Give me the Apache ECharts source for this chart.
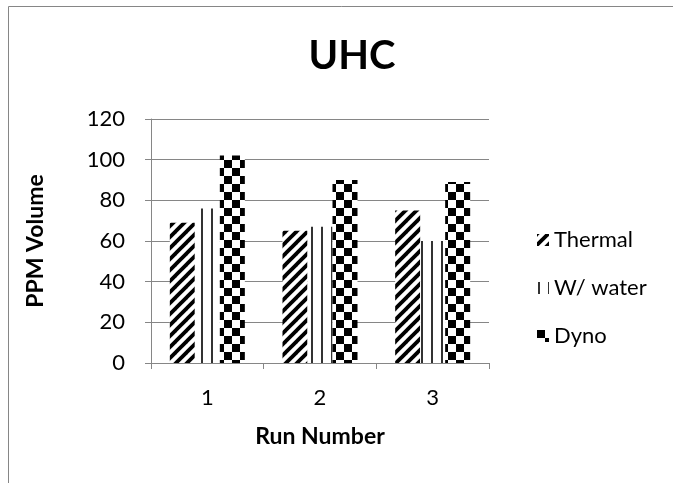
<!DOCTYPE html>
<html><head><meta charset="utf-8">
<script src="https://cdn.jsdelivr.net/npm/echarts@6/dist/echarts.min.js"></script>
<style>html,body{margin:0;padding:0;background:#fff;}#c{width:673px;height:483px;}</style>
</head><body><div id="c"></div>
<script>
const categories = ['1', '2', '3'];
const seriesNames = ['Thermal', 'W/ water', 'Dyno'];
const thermal = [69, 65, 75];
const water = [76, 67, 60];
const dyno = [102, 90, 89];
const yTicks = [0, 20, 40, 60, 80, 100, 120];

function mk(w, h, draw) {
  const c = document.createElement('canvas');
  c.width = w; c.height = h;
  const g = c.getContext('2d');
  g.fillStyle = '#fff'; g.fillRect(0, 0, w, h);
  draw(g);
  return { image: c, repeat: 'repeat' };
}
const diag = mk(11, 11, g => {
  g.strokeStyle = '#000'; g.lineWidth = 3.8;
  for (const o of [-11, 0, 11]) {
    g.beginPath(); g.moveTo(o - 2, 13); g.lineTo(o + 13, -2); g.stroke();
  }
});
const vert = mk(5, 4, g => {
  g.fillStyle = '#333'; g.fillRect(1, 0, 2, 4);
});
const vertBar = mk(10, 4, g => {
  g.fillStyle = '#333'; g.fillRect(1, 0, 2, 4);
});
const checker = mk(16, 16, g => {
  g.fillStyle = '#000'; g.fillRect(0, 0, 8, 8); g.fillRect(8, 8, 8, 8);
});
const patterns = [diag, vertBar, checker];
const values = [thermal, water, dyno];

const font = 'Lato, "Open Sans", sans-serif';
const chart = echarts.init(document.getElementById('c'), null, { renderer: 'canvas' });
chart.setOption({
  animation: false,
  backgroundColor: '#fff',
  title: {
    text: 'UHC', left: 347, top: 31, textAlign: 'center',
    textStyle: { fontFamily: font, fontSize: 40, fontWeight: 'bold', color: '#000' }
  },
  graphic: [{
    type: 'rect', shape: { x: 8.5, y: 6.5, width: 700, height: 500 },
    style: { fill: 'none', stroke: '#868686', lineWidth: 1 }, silent: true
  }],
  legend: {
    orient: 'vertical', left: 532, top: 224, itemGap: 26,
    itemWidth: 12, itemHeight: 12, icon: 'rect',
    textStyle: { fontFamily: font, fontSize: 22, color: '#000' },
    data: seriesNames
  },
  grid: { left: 151, top: 119, right: 184, bottom: 120 },
  xAxis: {
    type: 'category', data: categories,
    name: 'Run Number', nameLocation: 'middle', nameGap: 62,
    nameTextStyle: { fontFamily: font, fontSize: 23, fontWeight: 'bold', color: '#000' },
    axisLine: { lineStyle: { color: '#868686' } },
    axisTick: { show: true, length: 6, lineStyle: { color: '#868686' } },
    axisLabel: { fontFamily: font, fontSize: 22, color: '#000', margin: 24 }
  },
  yAxis: {
    type: 'value', min: 0, max: 120, interval: 20,
    name: 'PPM Volume', nameLocation: 'middle', nameGap: 104, nameRotate: 90,
    nameTextStyle: { fontFamily: font, fontSize: 23, fontWeight: 'bold', color: '#000' },
    axisLine: { show: true, lineStyle: { color: '#868686' } },
    axisTick: { show: true, length: 6, lineStyle: { color: '#868686' } },
    splitLine: { lineStyle: { color: '#868686' } },
    axisLabel: { fontFamily: font, fontSize: 22, color: '#000', margin: 26,
      formatter: v => yTicks.includes(v) ? String(v) : '' }
  },
  series: seriesNames.map((n, i) => ({
    name: n, type: 'bar', data: values[i],
    barWidth: 25, barGap: '0%',
    itemStyle: { color: patterns[i] }
  }))
});
</script></body></html>
